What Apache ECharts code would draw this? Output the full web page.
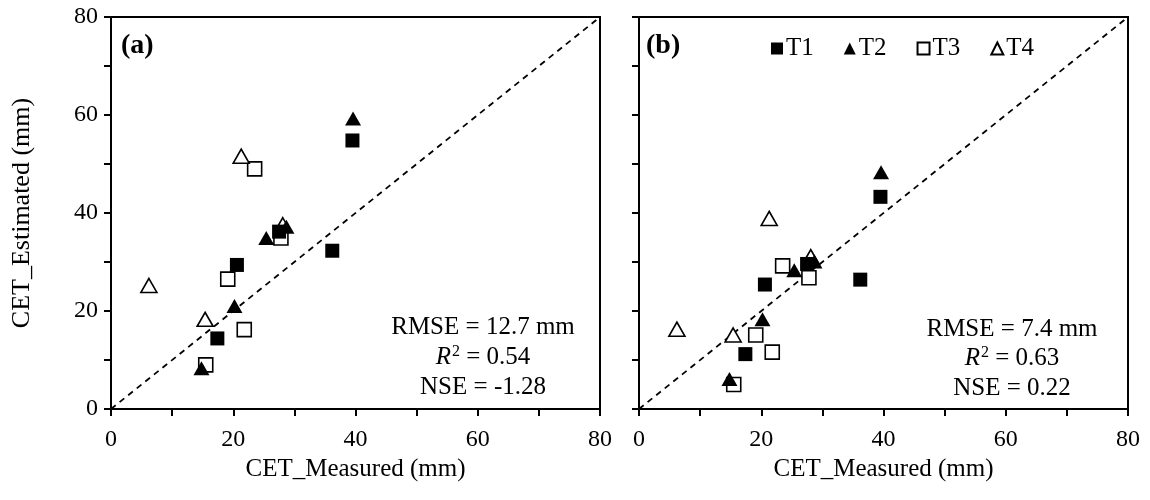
<!DOCTYPE html>
<html>
<head>
<meta charset="utf-8">
<script src="https://cdn.jsdelivr.net/npm/echarts@6/dist/echarts.min.js"></script>
<style>
  html, body { margin: 0; padding: 0; background: #fff; }
  #chart { width: 1150px; height: 500px; }
</style>
</head>
<body>
<div id="chart"></div>
<script>
// Measured crop evapotranspiration (mm) per treatment
const measuredT1 = [39.5, 27.5, 36.2, 20.6, 17.4];
const measuredT2 = [39.6, 28.7, 25.4, 20.2, 14.8];
const measuredT3 = [23.5, 27.8, 19.1, 21.8, 15.5];
const measuredT4 = [21.3, 6.2, 15.4, 28.1];

// Estimated values, panel (a)
const estimatedA_T1 = [54.8, 36.2, 32.3, 29.4, 14.4];
const estimatedA_T2 = [59.3, 37.2, 34.9, 21.0, 8.3];
const estimatedA_T3 = [49.0, 34.9, 26.5, 16.2, 9.0];
const estimatedA_T4 = [51.6, 25.2, 18.3, 37.6];

// Estimated values, panel (b)
const estimatedB_T1 = [43.3, 29.6, 26.4, 25.4, 11.2];
const estimatedB_T2 = [48.3, 30.1, 28.3, 18.3, 6.1];
const estimatedB_T3 = [29.2, 26.8, 15.1, 11.6, 5.0];
const estimatedB_T4 = [38.9, 16.3, 15.1, 31.1];

const treatments = ['T1', 'T2', 'T3', 'T4'];
const axisTicks = [0, 20, 40, 60, 80];
const statsA = ['RMSE = 12.7 mm', '0.54', 'NSE = -1.28'];
const statsB = ['RMSE = 7.4 mm', '0.63', 'NSE = 0.22'];
const oneToOne = [[0, 0], [80, 80]];

const FONT = 'Liberation Serif';
const pairs = (xs, ys) => xs.map((x, i) => [x, ys[i]]);

const chart = echarts.init(document.getElementById('chart'), null, { renderer: 'canvas' });

function xAxis(gridIndex) {
  return {
    gridIndex, type: 'value', min: 0, max: 80, interval: 10,
    name: 'CET_Measured (mm)', nameLocation: 'middle', nameGap: 46,
    nameTextStyle: { color: '#000', fontSize: 25, fontFamily: FONT },
    axisLine: { show: true, lineStyle: { color: '#000', width: 2 } },
    axisTick: { show: true, inside: false, length: 7, lineStyle: { color: '#000', width: 2 } },
    axisLabel: {
      color: '#000', fontSize: 24, fontFamily: FONT, margin: 19,
      formatter: v => axisTicks.includes(v) ? String(v) : ''
    },
    splitLine: { show: false }
  };
}
function yAxis(gridIndex, withLabels) {
  return {
    gridIndex, type: 'value', min: 0, max: 80, interval: 10,
    name: withLabels ? 'CET_Estimated (mm)' : '', nameLocation: 'middle', nameGap: 76,
    nameTextStyle: { color: '#000', fontSize: 26, fontFamily: FONT },
    axisLine: { show: true, lineStyle: { color: '#000', width: 2 } },
    axisTick: { show: true, inside: false, length: 7, lineStyle: { color: '#000', width: 2 } },
    axisLabel: {
      show: withLabels, color: '#000', fontSize: 24, fontFamily: FONT, margin: 13,
      formatter: v => axisTicks.includes(v) ? String(v) : ''
    },
    splitLine: { show: false }
  };
}

const styles = {
  T1: { symbol: 'rect', symbolSize: 14, itemStyle: { color: '#000', opacity: 1, borderColor: '#000', borderWidth: 0 } },
  T2: { symbol: 'triangle', symbolSize: [16, 14], itemStyle: { color: '#000', opacity: 1, borderColor: '#000', borderWidth: 0 } },
  T3: { symbol: 'rect', symbolSize: 14, itemStyle: { color: '#fff', opacity: 1, borderColor: '#000', borderWidth: 1.6 } },
  T4: { symbol: 'triangle', symbolSize: [16, 14], itemStyle: { color: '#fff', opacity: 1, borderColor: '#000', borderWidth: 1.6 } }
};

function scatter(name, idx, data) {
  return Object.assign({
    name, type: 'scatter', xAxisIndex: idx, yAxisIndex: idx, data,
    emphasis: { disabled: true }, z: name === 'T1' || name === 'T2' ? 4 : 3
  }, styles[name]);
}
function refLine(idx) {
  return {
    type: 'line', xAxisIndex: idx, yAxisIndex: idx, data: oneToOne,
    symbol: 'none', silent: true, z: 2,
    lineStyle: { color: '#000', width: 1.8, type: [6, 5] }
  };
}

function statsText(cx, ys, s) {
  return [
    { type: 'text', x: cx, y: ys[0], style: { text: s[0], fill: '#000', font: '25px ' + FONT, textAlign: 'center', textVerticalAlign: 'middle' } },
    {
      type: 'text', x: cx, y: ys[1],
      style: {
        text: '{i|R}{s|2}{n| = ' + s[1] + '}', textAlign: 'center', textVerticalAlign: 'middle',
        rich: {
          i: { fontSize: 25, fontFamily: FONT, fontStyle: 'italic', fill: '#000', lineHeight: 27 },
          s: { fontSize: 16, fontFamily: FONT, fill: '#000', verticalAlign: 'top', lineHeight: 27, padding: [0, 0, 9, 1] },
          n: { fontSize: 25, fontFamily: FONT, fill: '#000', lineHeight: 27 }
        }
      }
    },
    { type: 'text', x: cx, y: ys[2], style: { text: s[2], fill: '#000', font: '25px ' + FONT, textAlign: 'center', textVerticalAlign: 'middle' } }
  ];
}

const option = {
  backgroundColor: '#fff',
  animation: false,
  grid: [
    { left: 111, top: 17, width: 489, height: 392, show: true, borderColor: '#000', borderWidth: 2, backgroundColor: 'transparent' },
    { left: 639, top: 17, width: 489, height: 392, show: true, borderColor: '#000', borderWidth: 2, backgroundColor: 'transparent' }
  ],
  xAxis: [xAxis(0), xAxis(1)],
  yAxis: [yAxis(0, true), yAxis(1, false)],
  legend: {
    data: treatments, left: 766, top: 31, itemWidth: 12, itemHeight: 12, itemGap: 30,
    selectedMode: false,
    textStyle: { color: '#000', fontSize: 25, fontFamily: FONT, padding: [0, 0, 0, -2] }
  },
  graphic: [
    { type: 'text', x: 121, y: 46, style: { text: '(a)', fill: '#000', font: 'bold 28px ' + FONT, textVerticalAlign: 'middle' } },
    { type: 'text', x: 646, y: 46, style: { text: '(b)', fill: '#000', font: 'bold 28px ' + FONT, textVerticalAlign: 'middle' } }
  ].concat(statsText(483, [327, 357, 387], statsA), statsText(1012, [329, 358, 388], statsB)),
  series: [
    refLine(0), refLine(1),
    scatter('T3', 0, pairs(measuredT3, estimatedA_T3)),
    scatter('T4', 0, pairs(measuredT4, estimatedA_T4)),
    scatter('T1', 0, pairs(measuredT1, estimatedA_T1)),
    scatter('T2', 0, pairs(measuredT2, estimatedA_T2)),
    scatter('T3', 1, pairs(measuredT3, estimatedB_T3)),
    scatter('T4', 1, pairs(measuredT4, estimatedB_T4)),
    scatter('T1', 1, pairs(measuredT1, estimatedB_T1)),
    scatter('T2', 1, pairs(measuredT2, estimatedB_T2))
  ]
};
chart.setOption(option);
</script>
</body>
</html>
